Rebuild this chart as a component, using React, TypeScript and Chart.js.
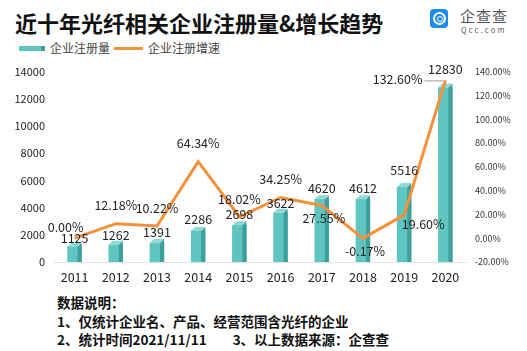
import React, { useEffect, useRef } from "react";
import { Chart, registerables } from "chart.js";
Chart.register(...registerables);

const years = ["2011", "2012", "2013", "2014", "2015", "2016", "2017", "2018", "2019", "2020"];
const registrations = [1125, 1262, 1391, 2286, 2698, 3622, 4620, 4612, 5516, 12830];
const growthRates = [0.0, 12.18, 10.22, 64.34, 18.02, 34.25, 27.55, -0.17, 19.6, 132.6];
const growthLabels = ["0.00%", "12.18%", "10.22%", "64.34%", "18.02%", "34.25%", "27.55%", "-0.17%", "19.60%", "132.60%"];
const leftAxis = { min: 0, max: 14000, step: 2000 };
const rightAxis = { min: -20, max: 140, step: 20 };

// label placement styles (relative to the mark), not data
const lineLabelPlacement = ["above-left", "above", "above", "above", "above", "above", "below", "below", "below-right", "left-leader"];
const barLabelLift = [4, 6, 7, 8, 7, 5, 7, 7, 13, 14];

const FONT = '"Noto Sans CJK SC", "Noto Sans", sans-serif';
const TEAL = "#5ec5c1";
const TEAL_SIDE = "#3f9f9b";
const TEAL_TOP = "#8ed9d5";
const ORANGE = "#f5913b";

const bar3d = {
  id: "bar3d",
  afterDatasetDraw(chart: any, args: any) {
    if (args.index !== 0) return;
    const ctx = chart.ctx;
    const meta = chart.getDatasetMeta(0);
    const d = 4;
    meta.data.forEach((el: any) => {
      const { x, y, base, width } = el.getProps(["x", "y", "base", "width"], true);
      const l = x - width / 2;
      const r = x + width / 2 - d;
      ctx.save();
      ctx.fillStyle = TEAL_SIDE;
      ctx.beginPath();
      ctx.moveTo(r, y);
      ctx.lineTo(r + d, y - d);
      ctx.lineTo(r + d, base);
      ctx.lineTo(r, base);
      ctx.closePath();
      ctx.fill();
      ctx.fillStyle = TEAL_TOP;
      ctx.beginPath();
      ctx.moveTo(l, y);
      ctx.lineTo(l + d, y - d);
      ctx.lineTo(r + d, y - d);
      ctx.lineTo(r, y);
      ctx.closePath();
      ctx.fill();
      ctx.restore();
    });
  },
};

const labelsPlugin = {
  id: "valueLabels",
  afterDatasetsDraw(chart: any) {
    const ctx = chart.ctx;
    ctx.save();
    ctx.fillStyle = "#222";
    ctx.font = `12.5px ${FONT}`;
    ctx.textAlign = "center";
    ctx.textBaseline = "middle";
    const barMeta = chart.getDatasetMeta(0);
    barMeta.data.forEach((el: any, i: number) => {
      const { x, y } = el.getProps(["x", "y"], true);
      ctx.fillText(String(registrations[i]), x, y - 4 - barLabelLift[i]);
    });
    const lineMeta = chart.getDatasetMeta(1);
    lineMeta.data.forEach((el: any, i: number) => {
      const { x, y } = el.getProps(["x", "y"], true);
      const p = lineLabelPlacement[i];
      const t = growthLabels[i];
      let lx = x, ly = y;
      ctx.textAlign = "center";
      if (p === "above") ly = y - 18;
      else if (p === "above-left") { lx = x - 9; ly = y - 11; }
      else if (p === "below") { lx = x + 2; ly = y + 13; }
      else if (p === "below-right") { lx = x + 19; ly = y + 9; }
      else if (p === "left-leader") {
        ctx.textAlign = "right";
        lx = x - 23; ly = y - 1;
        ctx.strokeStyle = "#999";
        ctx.lineWidth = 1;
        ctx.beginPath();
        ctx.moveTo(x - 21, y + 0.5);
        ctx.lineTo(x - 2, y + 0.5);
        ctx.stroke();
      }
      ctx.fillText(t, lx, ly);
    });
    ctx.restore();
  },
};

export default function App() {
  const ref = useRef<HTMLCanvasElement>(null);
  useEffect(() => {
    const chart = new Chart(ref.current as HTMLCanvasElement, {
      type: "bar",
      data: {
        labels: years,
        datasets: [
          {
            type: "bar",
            label: "企业注册量",
            data: registrations,
            backgroundColor: TEAL,
            barThickness: 14,
            yAxisID: "y",
            order: 2,
          },
          {
            type: "line",
            label: "企业注册增速",
            data: growthRates,
            borderColor: ORANGE,
            borderWidth: 3,
            pointRadius: 0,
            tension: 0,
            yAxisID: "y1",
            order: 1,
          } as any,
        ],
      },
      plugins: [bar3d, labelsPlugin],
      options: {
        animation: false,
        responsive: false,
        layout: { padding: { top: 15, left: 0, right: 0, bottom: 0 } },
        plugins: { legend: { display: false }, tooltip: { enabled: false } },
        scales: {
          x: {
            grid: { display: false, drawTicks: false },
            border: { display: true, color: "#e2e2e2" },
            ticks: { color: "#222", font: { size: 12.5, family: FONT }, padding: 8 },
            afterFit: (s: any) => { s.height = 28; },
          },
          y: {
            position: "left",
            min: leftAxis.min,
            max: leftAxis.max,
            grid: { display: false, drawTicks: false },
            border: { display: false },
            ticks: {
              stepSize: leftAxis.step,
              color: "#222",
              font: { size: 11, family: FONT },
              padding: 9,
              callback: (v: any) => String(v),
            },
            afterFit: (s: any) => { s.width = 54; },
          },
          y1: {
            position: "right",
            min: rightAxis.min,
            max: rightAxis.max,
            grid: { display: false, drawTicks: false },
            border: { display: false },
            ticks: {
              stepSize: rightAxis.step,
              color: "#333",
              font: { size: 9, family: FONT },
              padding: 9,
              callback: (v: any) => Number(v).toFixed(2) + "%",
            },
            afterFit: (s: any) => { s.width = 61; },
          },
        },
      },
    });
    return () => chart.destroy();
  }, []);

  return (
    <div style={{ position: "absolute", left: 0, top: 0, width: 527, height: 351, background: "#fff", fontFamily: FONT, overflow: "hidden" }}>
      <div style={{ position: "absolute", left: 15, top: 8, fontSize: 22, fontWeight: 700, color: "#111", lineHeight: "28px", whiteSpace: "nowrap" }}>
        近十年光纤相关企业注册量&amp;增长趋势
      </div>
      {/* logo */}
      <div style={{ position: "absolute", left: 430, top: 9, width: 18, height: 19, borderRadius: 4, background: "#1a8cf0" }}>
        <div style={{ position: "absolute", left: 3, top: 3, width: 9, height: 9, borderRadius: "50%", border: "2px solid #fff" }} />
        <div style={{ position: "absolute", left: 7, top: 7, width: 4, height: 4, borderRadius: "50%", border: "1.5px solid #fff" }} />
      </div>
      <div style={{ position: "absolute", left: 460, top: 6, fontSize: 15, color: "#555", lineHeight: "20px", letterSpacing: 1 }}>企查查</div>
      <div style={{ position: "absolute", left: 461, top: 25, fontSize: 7.5, color: "#555", lineHeight: "10px", letterSpacing: 2.2 }}>Qcc.com</div>
      {/* legend */}
      <div style={{ position: "absolute", left: 19, top: 46, width: 22, height: 5, background: TEAL }} />
      <div style={{ position: "absolute", left: 41, top: 46, width: 4, height: 5, background: TEAL_SIDE }} />
      <div style={{ position: "absolute", left: 50, top: 39, fontSize: 12, color: "#444", lineHeight: "18px" }}>企业注册量</div>
      <div style={{ position: "absolute", left: 114, top: 47, width: 29, height: 2.5, background: ORANGE }} />
      <div style={{ position: "absolute", left: 148, top: 39, fontSize: 12, color: "#444", lineHeight: "18px" }}>企业注册增速</div>
      {/* chart */}
      <canvas ref={ref} width={527} height={234} style={{ position: "absolute", left: 0, top: 56, width: 527, height: 234 }} />
      {/* notes */}
      <div style={{ position: "absolute", left: 57, top: 293, fontSize: 13.5, fontWeight: 700, color: "#111", lineHeight: "18.5px", whiteSpace: "nowrap" }}>
        <div>数据说明：</div>
        <div>1、仅统计企业名、产品、经营范围含光纤的企业</div>
        <div>2、统计时间2021/11/11<span style={{ display: "inline-block", width: 26 }} />3、以上数据来源：企查查</div>
      </div>
    </div>
  );
}
